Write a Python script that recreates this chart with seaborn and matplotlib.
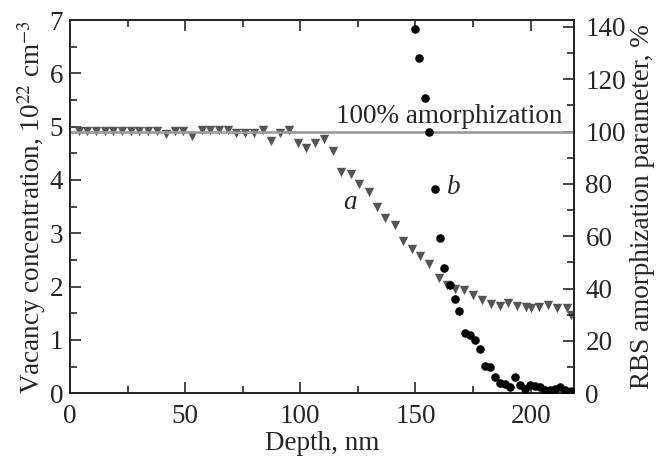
import numpy as np
import pandas as pd
import seaborn as sns
import matplotlib.pyplot as plt
from matplotlib.ticker import MultipleLocator

# series a: vacancy concentration (10^22 cm^-3) vs depth
depth_a = [3.9, 7.5, 11.3, 15.1, 18.8, 22.6, 26.4, 30.1, 33.9, 37.7,
           41.6, 45.5, 49.1, 53.2, 57.3, 61.0, 64.8, 68.6, 72.3, 76.1,
           79.9, 83.6, 87.4, 91.3, 95.1, 98.8, 102.6, 106.4, 110.1, 114.1,
           117.8, 121.9, 125.7, 129.7, 133.3, 137.0, 141.0, 144.8, 148.6, 152.2,
           155.8, 160.1, 163.8, 167.4, 171.3, 175.1, 179.0, 182.7, 186.6, 190.4,
           194.2, 198.0, 200.0, 203.6, 207.7, 211.6, 215.7, 217.7]
vac = [4.92, 4.92, 4.92, 4.92, 4.92, 4.92, 4.92, 4.92, 4.92, 4.92,
       4.87, 4.92, 4.92, 4.83, 4.93, 4.93, 4.93, 4.94, 4.88, 4.88,
       4.88, 4.94, 4.73, 4.89, 4.93, 4.69, 4.60, 4.69, 4.77, 4.54,
       4.15, 4.12, 3.93, 3.77, 3.49, 3.29, 3.16, 2.86, 2.71, 2.58,
       2.42, 2.16, 2.03, 1.95, 1.94, 1.84, 1.75, 1.67, 1.64, 1.70,
       1.64, 1.61, 1.60, 1.61, 1.66, 1.60, 1.60, 1.47]

# series b: RBS amorphization parameter (%) vs depth
depth_b = [149.7, 151.7, 154.3, 156.0, 158.4, 160.6, 162.6, 164.9, 167.0, 169.1,
           171.4, 173.6, 175.7, 178.0, 180.0, 182.3, 184.5, 186.7, 188.8, 191.2,
           193.3, 195.4, 197.6, 199.9, 202.0, 204.2, 206.4, 208.6, 210.7, 212.9,
           215.1, 217.4]
rbs = [139.2, 128.1, 112.8, 99.8, 78.0, 59.3, 48.0, 41.2, 36.0, 31.6,
       22.9, 22.2, 20.4, 17.0, 10.3, 9.9, 6.2, 4.1, 3.5, 2.3,
       6.2, 3.3, 1.6, 3.2, 2.6, 2.5, 1.4, 1.2, 1.5, 2.4,
       1.4, 0.8]

full_amorph = 100

sns.set_style("ticks")
plt.rcParams['font.family'] = ['Liberation Serif', 'DejaVu Serif']
plt.rcParams['mathtext.fontset'] = 'stix'
plt.rcParams['axes.linewidth'] = 1.4
fs = 19.5

df_a = pd.DataFrame({'depth': depth_a, 'vac': vac})
df_b = pd.DataFrame({'depth': depth_b, 'rbs': rbs})

fig = plt.figure(figsize=(6.59, 4.58), dpi=100)
ax1 = fig.add_axes([0.1062, 0.1413, 0.8715 - 0.1062, 0.9563 - 0.1413])
ax2 = ax1.twinx()

ax2.axhline(full_amorph, color='#9a9a9a', lw=1.9, zorder=1)
sns.scatterplot(data=df_a, x='depth', y='vac', ax=ax1, marker='v', s=46,
                color='#555555', linewidth=0, zorder=3)
sns.scatterplot(data=df_b, x='depth', y='rbs', ax=ax2, marker='o', s=38,
                color='black', linewidth=0, zorder=3)

ax1.set_xlim(0, 219)
ax1.set_ylim(0, 7)
ax2.set_ylim(0, 142.6)

ax1.xaxis.set_major_locator(MultipleLocator(50))
ax1.xaxis.set_minor_locator(MultipleLocator(25))
ax1.yaxis.set_major_locator(MultipleLocator(1))
ax1.yaxis.set_minor_locator(MultipleLocator(0.5))
ax2.yaxis.set_major_locator(MultipleLocator(20))
ax2.yaxis.set_minor_locator(MultipleLocator(10))

ax1.tick_params(axis='x', which='both', direction='in', top=True, labelsize=fs, width=1.2, pad=8)
ax1.tick_params(axis='y', which='both', direction='in', right=False, labelsize=fs, width=1.2, pad=5)
ax2.tick_params(axis='y', which='both', direction='in', labelsize=fs, width=1.2, pad=8)
for a in (ax1, ax2):
    a.tick_params(which='major', length=8)
    a.tick_params(which='minor', length=5)

ax1.set_xlabel('Depth, nm', fontsize=fs, labelpad=1)
ax1.set_ylabel(r'Vacancy concentration, 10$^{22}$ cm$^{-3}$', fontsize=fs, labelpad=1)
ax2.set_ylabel('RBS amorphization parameter, %', fontsize=fs, labelpad=3)

ax1.text(214, 5.07, '100% amorphization', fontsize=fs, ha='right', va='baseline')
ax1.text(121.7, 3.57, 'a', fontsize=fs, style='italic', ha='center', va='center')
ax1.text(166.7, 3.85, 'b', fontsize=fs, style='italic', ha='center', va='center')

fig.savefig('out.png', dpi=100)
